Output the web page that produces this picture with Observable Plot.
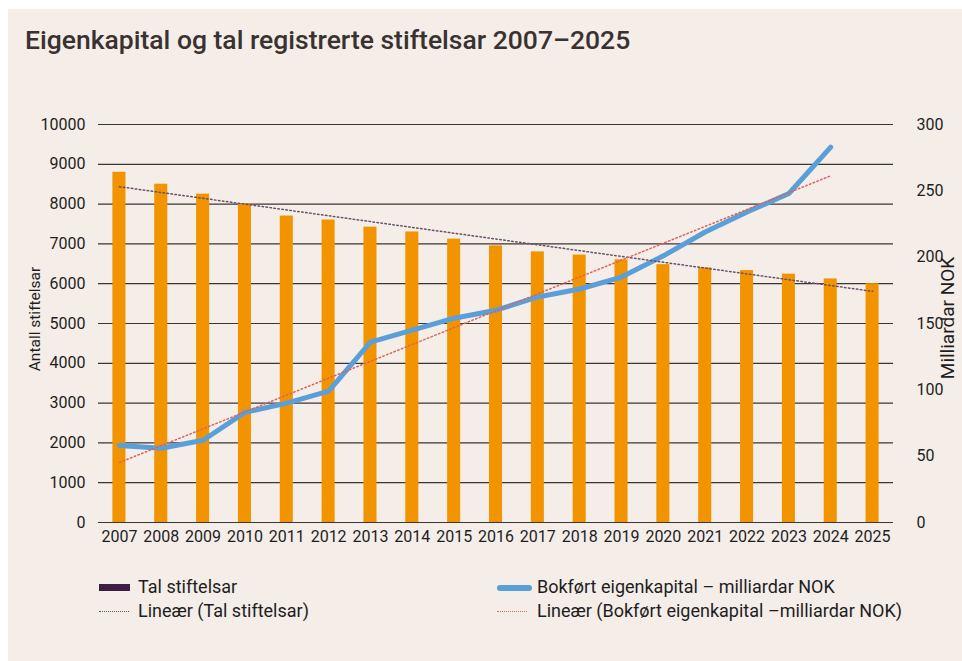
<!DOCTYPE html>
<html>
<head>
<meta charset="utf-8">
<script src="https://cdn.jsdelivr.net/npm/d3@7"></script>
<script src="https://cdn.jsdelivr.net/npm/@observablehq/plot@0.6"></script>
<style>
  html, body { margin: 0; padding: 0; background: #ffffff; }
  #panel { position: absolute; left: 8px; top: 9px; width: 954px; height: 652px; background: #f4ede8; font-family: Roboto, "Liberation Sans", sans-serif; color: #1e1e1e; overflow: hidden; }
  #title { position: absolute; left: 17px; top: 18px; font-size: 26.5px; line-height: 26px; font-weight: 500; color: #3a3131; letter-spacing: 0; white-space: nowrap; }
  #chart { position: absolute; left: 0; top: 81px; }
  .ytitle { position: absolute; white-space: nowrap; transform: translate(-50%, -50%) rotate(-90deg); line-height: 20px; }
  .leg { position: absolute; font-size: 18px; line-height: 20px; white-space: nowrap; }
  .sw { position: absolute; }
</style>
</head>
<body>
<div id="panel">
  <div id="title">Eigenkapital og tal registrerte stiftelsar 2007–2025</div>
  <div id="chart"></div>
  <div class="ytitle" style="left:27px; top:310px; font-size:15.5px;">Antall stiftelsar</div>
  <div class="ytitle" style="left:940px; top:309px; font-size:19px;">Milliardar NOK</div>

  <div class="sw" style="left:91px; top:575px; width:31px; height:7px; background:#3c1d44;"></div>
  <div class="leg" style="left:130px; top:568px;">Tal stiftelsar</div>
  <div class="sw" style="left:91px; top:602px; width:30px; height:0; border-top:1.5px dotted #6a4f6a;"></div>
  <div class="leg" style="left:130px; top:592px;">Lineær (Tal stiftelsar)</div>

  <div class="sw" style="left:489px; top:576px; width:35px; height:6px; border-radius:3px; background:#5b9fd9;"></div>
  <div class="leg" style="left:529px; top:568px;">Bokført eigenkapital – milliardar NOK</div>
  <div class="sw" style="left:489px; top:602px; width:30px; height:0; border-top:1.5px dotted #e0605a;"></div>
  <div class="leg" style="left:529px; top:592px;">Lineær (Bokført eigenkapital –milliardar NOK)</div>
</div>
<script>
const years = [2007, 2008, 2009, 2010, 2011, 2012, 2013, 2014, 2015, 2016, 2017, 2018, 2019, 2020, 2021, 2022, 2023, 2024, 2025];
const stiftelsar = [8800, 8500, 8250, 8000, 7700, 7600, 7420, 7300, 7120, 6950, 6800, 6720, 6600, 6480, 6400, 6330, 6240, 6120, 6000];
const capYears = [2007, 2008, 2009, 2010, 2011, 2012, 2013, 2014, 2015, 2016, 2017, 2018, 2019, 2020, 2021, 2022, 2023, 2024];
const eigenkapital = [58, 56, 62, 83, 90, 99, 136, 145, 154, 160, 170, 176, 185, 201, 219, 234, 248, 283];
const leftTicks = [0, 1000, 2000, 3000, 4000, 5000, 6000, 7000, 8000, 9000, 10000];
const rightTicks = [0, 50, 100, 150, 200, 250, 300];
const leftMax = 10000, rightMax = 300;
const K = leftMax / rightMax;

const bars = years.map((y, i) => ({year: y, n: stiftelsar[i]}));
const cap = capYears.map((y, i) => ({year: y, v: eigenkapital[i] * K}));

const chart = Plot.plot({
  width: 954,
  height: 480,
  marginLeft: 90,
  marginRight: 69,
  marginTop: 34,
  marginBottom: 48,
  style: {background: "transparent", fontFamily: "Roboto, 'Liberation Sans', sans-serif", fontSize: "16px", color: "#1e1e1e"},
  x: {domain: [years[0] - 0.5, years[years.length - 1] + 0.5], label: null},
  y: {domain: [0, leftMax], label: null},
  marks: [
    Plot.ruleY(leftTicks, {stroke: "#3b3636", strokeWidth: 1.2}),
    Plot.rectY(bars, {x1: d => d.year - 0.5, x2: d => d.year + 0.5, y: "n", fill: "#f29400", insetLeft: 14.4, insetRight: 14.4}),
    Plot.line(cap, {x: "year", y: "v", stroke: "#5b9fd9", strokeWidth: 5, strokeLinecap: "round", strokeLinejoin: "round"}),
    Plot.linearRegressionY(bars, {x: "year", y: "n", stroke: "#6a4f6a", strokeWidth: 1.5, strokeDasharray: "1.5,2.5", ci: 0}),
    Plot.linearRegressionY(cap, {x: "year", y: "v", stroke: "#e0605a", strokeWidth: 1.5, strokeDasharray: "1.5,2.5", ci: 0}),
    Plot.axisY(leftTicks, {anchor: "left", tickSize: 0, tickPadding: 13, label: null, tickFormat: d => String(d)}),
    Plot.axisY(rightTicks.map(v => v * K), {anchor: "right", tickSize: 0, tickPadding: 23, label: null, tickFormat: d => String(Math.round(d / K))}),
    Plot.axisX(years, {anchor: "bottom", tickSize: 0, tickPadding: 8, label: null, tickFormat: d => String(d)})
  ]
});
document.getElementById("chart").appendChild(chart);
</script>
</body>
</html>
